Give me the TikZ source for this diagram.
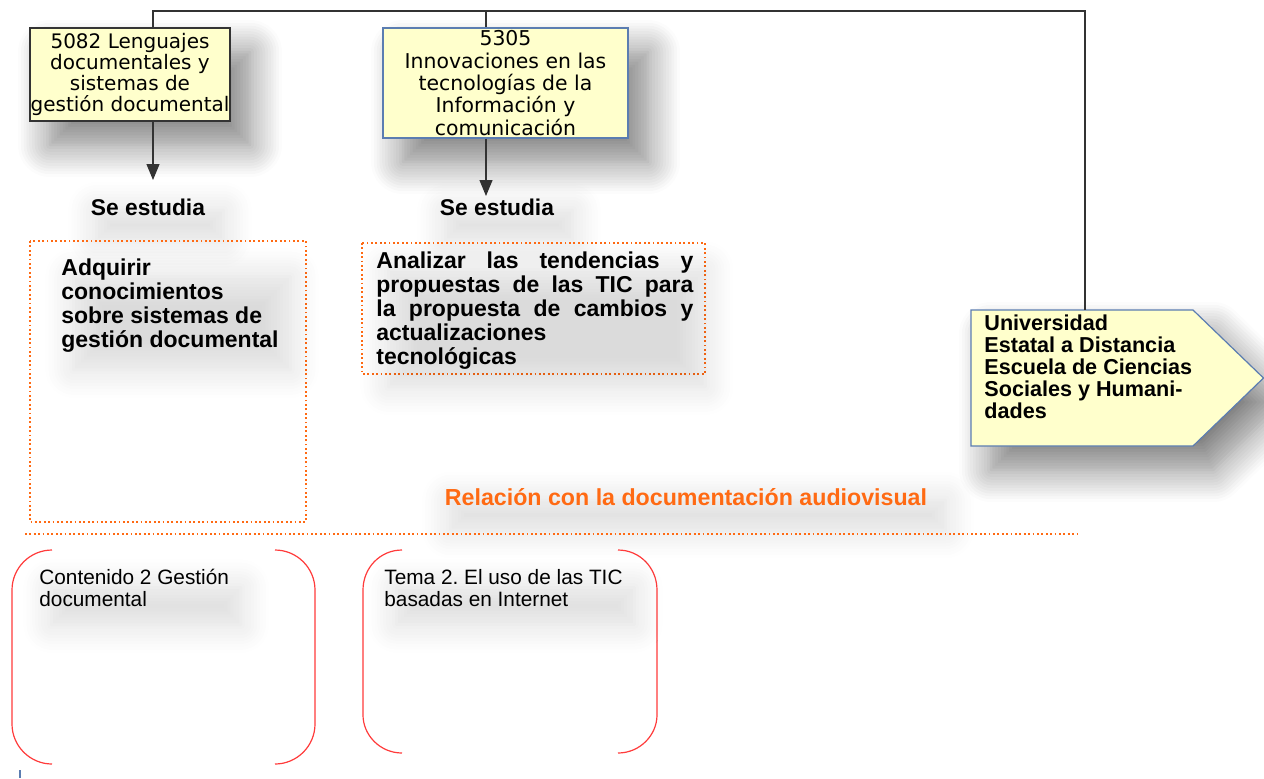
\documentclass[tikz,border=0pt]{standalone}
\usepackage{fontspec}
\setmainfont{Liberation Sans}
\newfontfamily\dejavu{DejaVu Sans}
\usepackage{tikz}
\usepackage{xcolor}
\usetikzlibrary{
    arrows.meta,
    calc,
    positioning,
    shadows.blur
}
\definecolor{amarillo}{HTML}{FFFFCC}
\definecolor{naranja}{HTML}{FF6A13}
\definecolor{rojo}{HTML}{FF3B3B}
\definecolor{azulborde}{HTML}{5B7DB1}
\frenchspacing

\begin{document}
\begin{tikzpicture}[x=0.5pt, y=-0.5pt,
    sombra/.style={blur shadow={shadow xshift=10pt, shadow yshift=-12pt, shadow blur radius=16pt,
        shadow blur steps=12, shadow opacity=50}},
    sombratexto/.style={blur shadow={shadow xshift=6pt, shadow yshift=-9pt, shadow blur radius=14pt,
        shadow blur steps=10, shadow opacity=14}},
    asig/.style={draw=black!80, fill=amarillo, inner sep=0pt, align=center, line width=0.6pt,
        font=\dejavu\fontsize{10}{10.5}\selectfont, sombra},
    estudia/.style={font=\bfseries\fontsize{11.4}{12}\selectfont, sombratexto},
    texto/.style={anchor=north west, inner sep=0pt, align=left},
    punteado/.style={draw=naranja, line width=0.8pt, dash pattern=on 0.9pt off 1.3pt},
    corchete/.style={draw=rojo, line width=0.6pt},
    linea/.style={draw=black!80, line width=0.6pt},
    flecha/.style={linea, -{Triangle[length=8pt, width=6.5pt]}}]

    \useasboundingbox (0,0) rectangle (1264,778);

    % asignaturas
    \node[asig, minimum width=100pt, minimum height=46.5pt] (n5082) at (130,74.5)
        {5082 Lenguajes\\documentales y\\sistemas de\\gestión documental};
    \node[asig, draw=azulborde, minimum width=122.5pt, minimum height=55pt,
        font=\dejavu\fontsize{10.2}{11.2}\selectfont] (n5305) at (505.5,83)
        {5305\\Innovaciones en las\\tecnologías de la\\Información y\\comunicación};

    % universidad
    \coordinate (u1) at (971,310);
    \coordinate (u2) at (1193,310);
    \coordinate (u3) at (1263.5,378);
    \coordinate (u4) at (1193,446);
    \coordinate (u5) at (971,446);
    \draw[draw=azulborde, fill=amarillo, line width=0.6pt, sombra]
        (u1) -- (u2) -- (u3) -- (u4) -- (u5) -- cycle;
    \node[texto, font=\bfseries\fontsize{10.8}{11}\selectfont] (univ) at (984,314)
        {Universidad\\Estatal a Distancia\\Escuela de Ciencias\\Sociales y Humani-\\dades};

    % conectores
    \coordinate (c1) at (153,180);
    \coordinate (c2) at (486,196);
    \coordinate (arriba1) at (153,11);
    \coordinate (arriba2) at (1085,11);
    \draw[linea] (c1 |- n5082.north) -- (arriba1) -- (arriba2) -- (arriba2 |- u1);
    \draw[linea] (c2 |- arriba1) -- (c2 |- n5305.north);
    \draw[flecha] (c1 |- n5082.south) -- (c1);
    \draw[flecha] (c2 |- n5305.south) -- (c2);

    \node[estudia] (est1) at (148,207) {Se estudia};
    \node[estudia] (est2) at (497,207) {Se estudia};

    % objetivos
    \draw[punteado] (30,241) rectangle (306,522);
    \node[texto, sombratexto, font=\bfseries\fontsize{11.5}{12}\selectfont] (obj1) at (61,258)
        {Adquirir\\conocimientos\\sobre sistemas de\\gestión documental};
    \draw[punteado] (362,243) rectangle (705,374);
    \node[texto, sombratexto, font=\bfseries\fontsize{11.5}{12}\selectfont] (obj2) at (376,251)
        {\makebox[158.5pt][s]{Analizar las tendencias y}\\
         \makebox[158.5pt][s]{propuestas de las TIC para}\\
         \makebox[158.5pt][s]{la propuesta de cambios y}\\
         actualizaciones\\tecnológicas};

    % relacion
    \node[font=\bfseries\fontsize{11.6}{12}\selectfont, text=naranja, sombratexto] (rel) at (686,497)
        {Relación con la documentación audiovisual};
    \draw[punteado, line width=0.6pt] (25,534) -- (1078,534);

    % contenidos
    \draw[corchete] (52,550) .. controls (30,550) and (12,568) .. (12,590) -- (12,724)
        .. controls (12,746) and (30,764) .. (52,764);
    \draw[corchete] (275,550) .. controls (297,550) and (315,568) .. (315,590) -- (315,724)
        .. controls (315,746) and (297,764) .. (275,764);
    \draw[corchete] (402,550) .. controls (380,550) and (363,568) .. (363,590) -- (363,715)
        .. controls (363,735) and (380,753) .. (402,753);
    \draw[corchete] (618,550) .. controls (640,550) and (657,568) .. (657,590) -- (657,715)
        .. controls (657,735) and (640,753) .. (618,753);
    \node[texto, sombratexto, font=\fontsize{10.4}{11}\selectfont] (cont2) at (39,569)
        {Contenido 2 Gestión\\documental};
    \node[texto, sombratexto, font=\fontsize{10.4}{11}\selectfont] (tema2) at (384,569)
        {Tema 2. El uso de las TIC\\basadas en Internet};

    \draw[draw=azulborde, line width=0.6pt] (20,770) -- (20,778);
\end{tikzpicture}
\end{document}
